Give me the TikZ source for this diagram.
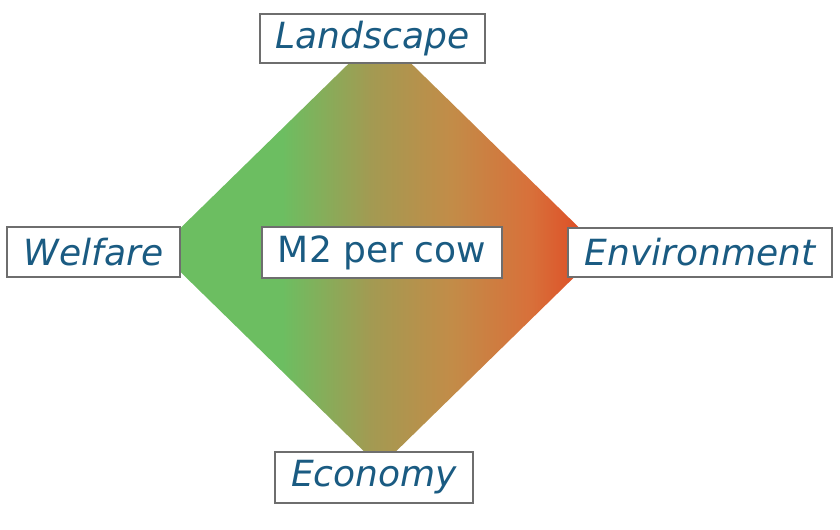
\documentclass[tikz,border=0pt]{standalone}
\usepackage{fontspec}
\setmainfont{DejaVu Sans}
\definecolor{labelblue}{HTML}{1A5B82}
\definecolor{boxgray}{HTML}{6E6E6E}
\definecolor{cowgreen}{HTML}{6CBE61}
\definecolor{cowolive}{HTML}{A39A52}
\definecolor{cowbrown}{HTML}{C28C48}
\definecolor{coworange}{HTML}{D8703A}
\definecolor{cowred}{HTML}{E0401E}
\pgfdeclarehorizontalshading{cowshade}{100bp}{color(0bp)=(cowgreen); color(25bp)=(cowgreen); color(39bp)=(cowgreen); color(49bp)=(cowolive); color(58bp)=(cowbrown); color(67bp)=(coworange); color(75bp)=(cowred); color(100bp)=(cowred)}
\begin{document}
\begin{tikzpicture}[x=0.02cm,y=-0.02cm,
  label/.style={draw=boxgray,line width=0.9pt,fill=white,inner sep=0pt,minimum height=1cm,
    font=\fontsize{20.5}{24}\selectfont\itshape,text=labelblue},
  centre/.style={label,font=\fontsize{20.5}{24}\selectfont}]
\useasboundingbox (0,0) rectangle (840,529);
\shade[shading=cowshade] (380,33) -- (602,250) -- (380,467) -- (158,250) -- cycle;
\node[label,minimum width=4.5cm,minimum height=0.98cm] (landscape) at (372.5,38.5) {Landscape};
\node[label,minimum width=3.46cm] (welfare) at (93.5,252) {Welfare};
\node[label,minimum width=5.28cm,minimum height=0.98cm] (environment) at (700,252.5) {Environment};
\node[label,minimum width=3.96cm,minimum height=1.02cm] (economy) at (374,477.5) {Economy};
\node[centre,minimum width=4.8cm,minimum height=1.02cm] (m2) at (382,252.5) {M2 per cow};
\end{tikzpicture}
\end{document}
